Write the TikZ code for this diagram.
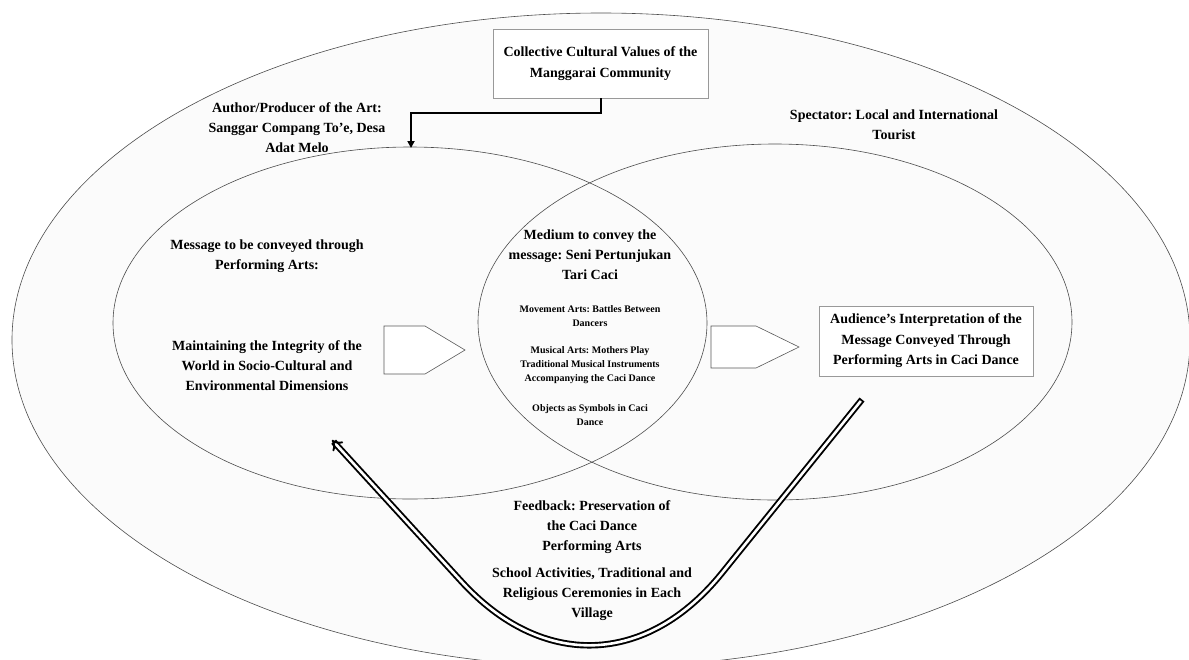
\documentclass[tikz,border=0pt]{standalone}
\usepackage{fontspec}
\setmainfont{Liberation Serif}[Ligatures=Common]
\usetikzlibrary{arrows.meta}
\frenchspacing
\tikzset{
  big/.style={align=center, font=\fontsize{14}{20}\selectfont\bfseries, inner sep=0pt},
  small/.style={align=center, font=\fontsize{10}{14}\selectfont\bfseries, inner sep=0pt},
  ell/.style={draw=black!70, line width=0.6pt},
  textbox/.style={draw=black!40, fill=white, line width=0.7pt, align=center,
    font=\fontsize{14}{20.5}\selectfont\bfseries, inner sep=0pt},
  pent/.style={draw=black!65, fill=white, line width=0.6pt},
  elbow/.style={line width=2pt, -{Triangle[length=7pt,width=7pt]}},
  feedback/.style={line width=1.9pt, double=white, double distance=2.6pt, line cap=rect, -{Implies}}
}
\begin{document}
\begin{tikzpicture}[x=1pt,y=-1pt]
\useasboundingbox (0,0) rectangle (1189,659);
% ellipses
\fill[black!1.5] (601,340) ellipse [x radius=589, y radius=327];
\draw[ell] (601,340) ellipse [x radius=589, y radius=327];
\draw[ell] (410,323) ellipse [x radius=297, y radius=176];
\draw[ell] (775,322) ellipse [x radius=297, y radius=178];
% top box
\node[textbox, minimum width=215pt, minimum height=69pt] (values) at (600.5,63.5)
  {Collective Cultural Values of the\\Manggarai Community};
\coordinate (author-top) at (411,148);
\draw[elbow] (values.south) -- ++(0,15) -| (author-top);
% labels in outer ring
\node[big] (author) at (297,128) {Author/Producer of the Art:\\Sanggar Compang To’e, Desa\\Adat Melo};
\node[big] (spectator) at (894,125) {Spectator: Local and International\\Tourist};
% left ellipse
\node[big] (message) at (267,256) {Message to be conveyed through\\Performing Arts:};
\node[big] (maintain) at (267,366) {Maintaining the Integrity of the\\World in Socio-Cultural and\\Environmental Dimensions};
% lens
\node[big] (medium) at (590,255) {Medium to convey the\\message: Seni Pertunjukan\\Tari Caci};
\node[small] (movement) at (590,316) {Movement Arts: Battles Between\\Dancers};
\node[small] (musical) at (590,365) {Musical Arts: Mothers Play\\Traditional Musical Instruments\\Accompanying the Caci Dance};
\node[small] (objects) at (590,415) {Objects as Symbols in Caci\\Dance};
% pentagon arrows
\draw[pent] (384,326) -- (425,326) -- (465,350) -- (425,374) -- (384,374) -- cycle;
\draw[pent] (711,326) -- (756,326) -- (799,347) -- (756,368) -- (711,368) -- cycle;
% audience box
\node[textbox, minimum width=214pt, minimum height=70pt] (audience) at (926,341)
  {Audience's Interpretation of the\\Message Conveyed Through\\Performing Arts in Caci Dance};
% feedback
\node[big] (fb) at (592,527) {Feedback: Preservation of\\the Caci Dance\\Performing Arts};
\node[big] (school) at (592,594) {School Activities, Traditional and\\Religious Ceremonies in Each\\Village};
\coordinate (fbstart) at (860,402);
\coordinate (fbend) at (332,440);
\draw[feedback] (fbstart) -- (722,573) .. controls (647,666) and (542,670) .. (461,581) -- (fbend);
\end{tikzpicture}
\end{document}
